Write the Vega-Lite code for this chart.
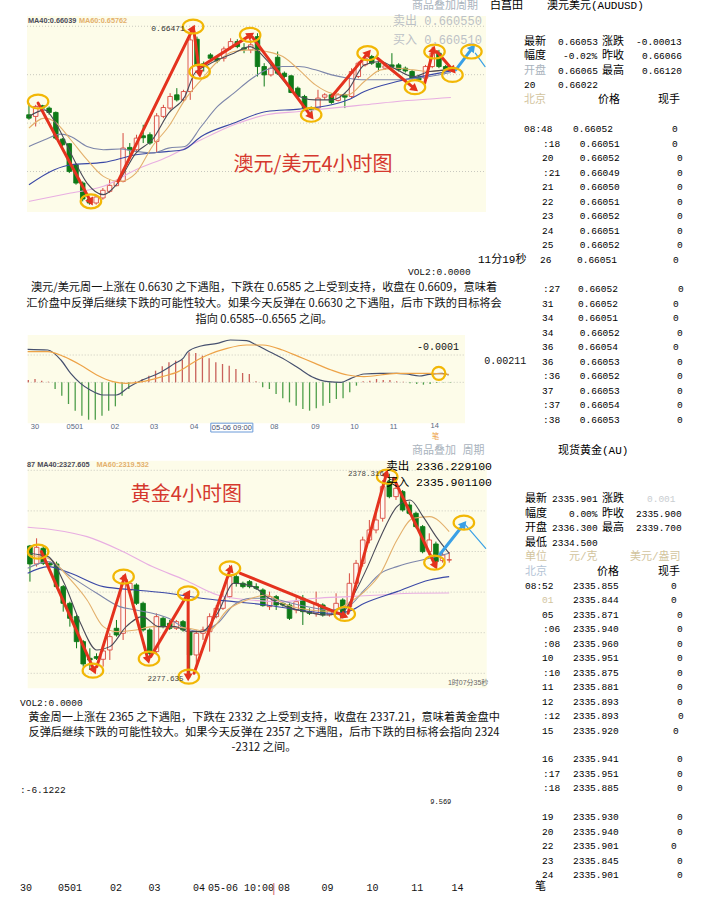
{
"$schema": "https://vega.github.io/schema/vega-lite/v6.json",
"width": 722, "height": 897, "autosize": "none", "padding": 0, "background": "#ffffff",
"config": {"view": {"stroke": null}},
"datasets": {
"audK": [
{"i":1,"o":0.65586,"c":0.65551,"h":0.65706,"l":0.65534},{"i":2,"o":0.65569,"c":0.65672,"h":0.65689,"l":0.65465},{"i":3,"o":0.65679,"c":0.65655,"h":0.65689,"l":0.65637},{"i":4,"o":0.65655,"c":0.6561,"h":0.65672,"l":0.65586},{"i":5,"o":0.6561,"c":0.65345,"h":0.6562,"l":0.65328},{"i":6,"o":0.65335,"c":0.65276,"h":0.65345,"l":0.65259},{"i":7,"o":0.65287,"c":0.65001,"h":0.65294,"l":0.64984},{"i":8,"o":0.6507,"c":0.64881,"h":0.65087,"l":0.64864},{"i":9,"o":0.64881,"c":0.64716,"h":0.64898,"l":0.64692},{"i":10,"o":0.64716,"c":0.64675,"h":0.64727,"l":0.64658},
{"i":11,"o":0.64675,"c":0.64737,"h":0.64761,"l":0.64658},{"i":12,"o":0.64727,"c":0.64806,"h":0.6483,"l":0.64709},{"i":13,"o":0.64795,"c":0.64857,"h":0.64916,"l":0.64778},{"i":14,"o":0.64854,"c":0.64898,"h":0.64916,"l":0.64847},{"i":15,"o":0.64898,"c":0.65242,"h":0.65397,"l":0.64888},{"i":16,"o":0.65249,"c":0.65225,"h":0.65294,"l":0.65173},{"i":17,"o":0.65225,"c":0.65345,"h":0.6538,"l":0.65208},{"i":18,"o":0.65369,"c":0.65349,"h":0.65483,"l":0.65294},{"i":19,"o":0.6538,"c":0.65294,"h":0.65404,"l":0.65276},{"i":20,"o":0.65311,"c":0.65575,"h":0.65603,"l":0.65191},
{"i":21,"o":0.65569,"c":0.65661,"h":0.65689,"l":0.65551},{"i":22,"o":0.65655,"c":0.65775,"h":0.65809,"l":0.65637},{"i":23,"o":0.65792,"c":0.6574,"h":0.65861,"l":0.65723},{"i":24,"o":0.6574,"c":0.65826,"h":0.65844,"l":0.65723},{"i":25,"o":0.65826,"c":0.66359,"h":0.66479,"l":0.6574},{"i":26,"o":0.66366,"c":0.66101,"h":0.66393,"l":0.66084},{"i":27,"o":0.66112,"c":0.66084,"h":0.66136,"l":0.66033},{"i":28,"o":0.66204,"c":0.6617,"h":0.66222,"l":0.66153},{"i":29,"o":0.6617,"c":0.66143,"h":0.66187,"l":0.66119},{"i":30,"o":0.6617,"c":0.66266,"h":0.6629,"l":0.66136},
{"i":31,"o":0.66284,"c":0.66342,"h":0.66376,"l":0.66256},{"i":32,"o":0.66342,"c":0.6629,"h":0.66366,"l":0.66273},{"i":33,"o":0.66277,"c":0.66263,"h":0.66325,"l":0.66222},{"i":34,"o":0.66256,"c":0.66308,"h":0.66359,"l":0.66222},{"i":35,"o":0.66393,"c":0.66084,"h":0.66428,"l":0.65981},{"i":36,"o":0.66084,"c":0.65998,"h":0.66119,"l":0.65878},{"i":37,"o":0.65998,"c":0.66067,"h":0.66101,"l":0.65981},{"i":38,"o":0.6618,"c":0.66015,"h":0.66239,"l":0.65998},{"i":39,"o":0.66015,"c":0.65981,"h":0.66033,"l":0.65964},{"i":40,"o":0.65988,"c":0.65816,"h":0.65998,"l":0.65809},
{"i":41,"o":0.65861,"c":0.65775,"h":0.65878,"l":0.65758},{"i":42,"o":0.65775,"c":0.65655,"h":0.65792,"l":0.65637},{"i":43,"o":0.65655,"c":0.65637,"h":0.65672,"l":0.65603},{"i":44,"o":0.65655,"c":0.65758,"h":0.65844,"l":0.65637},{"i":45,"o":0.65768,"c":0.65792,"h":0.65809,"l":0.6574},{"i":46,"o":0.65792,"c":0.65713,"h":0.65809,"l":0.65699},{"i":47,"o":0.65734,"c":0.65792,"h":0.65809,"l":0.65723},{"i":48,"o":0.65792,"c":0.65768,"h":0.65809,"l":0.65655},{"i":49,"o":0.65775,"c":0.66033,"h":0.66067,"l":0.65758},{"i":50,"o":0.65981,"c":0.66119,"h":0.66136,"l":0.65964},
{"i":51,"o":0.66101,"c":0.6617,"h":0.66204,"l":0.66084},{"i":52,"o":0.66187,"c":0.66119,"h":0.66204,"l":0.66101},{"i":53,"o":0.66119,"c":0.66077,"h":0.66136,"l":0.66033},{"i":54,"o":0.66067,"c":0.66091,"h":0.66101,"l":0.6605},{"i":55,"o":0.66101,"c":0.66084,"h":0.66222,"l":0.6605},{"i":56,"o":0.66101,"c":0.6605,"h":0.66119,"l":0.66033},{"i":57,"o":0.66067,"c":0.66039,"h":0.66084,"l":0.66022},{"i":58,"o":0.66033,"c":0.65964,"h":0.6605,"l":0.65947},{"i":59,"o":0.65974,"c":0.65947,"h":0.65998,"l":0.6593},{"i":60,"o":0.65964,"c":0.66084,"h":0.66101,"l":0.65947},
{"i":61,"o":0.66084,"c":0.66222,"h":0.6629,"l":0.66067},{"i":62,"o":0.66222,"c":0.66084,"h":0.66256,"l":0.66067},{"i":63,"o":0.66084,"c":0.66057,"h":0.66101,"l":0.66043},{"i":64,"o":0.66074,"c":0.6605,"h":0.66091,"l":0.66033}
],
"audMA": [
{"m":"MA60","i":1,"p":0.64692},{"m":"MA60","i":7.21,"p":0.64778},{"m":"MA60","i":12.07,"p":0.64847},{"m":"MA60","i":16.92,"p":0.65019},{"m":"MA60","i":21.78,"p":0.65156},{"m":"MA60","i":26.63,"p":0.65328},{"m":"MA60","i":31.49,"p":0.65483},{"m":"MA60","i":36.34,"p":0.65586},{"m":"MA60","i":41.19,"p":0.6562},{"m":"MA60","i":46.05,"p":0.65655},{"m":"MA60","i":50.9,"p":0.65689},{"m":"MA60","i":55.76,"p":0.65723},{"m":"MA60","i":63.77,"p":0.65764},
{"m":"MA40","i":1,"p":0.64864},{"m":"MA40","i":4.79,"p":0.65019},{"m":"MA40","i":7.21,"p":0.6507},{"m":"MA40","i":12.07,"p":0.65094},{"m":"MA40","i":16.92,"p":0.65173},{"m":"MA40","i":21.78,"p":0.65208},{"m":"MA40","i":23.96,"p":0.65225},{"m":"MA40","i":26.63,"p":0.65362},{"m":"MA40","i":31.49,"p":0.655},{"m":"MA40","i":36.34,"p":0.6562},{"m":"MA40","i":41.19,"p":0.65644},{"m":"MA40","i":46.05,"p":0.65689},{"m":"MA40","i":48.48,"p":0.6574},{"m":"MA40","i":50.9,"p":0.65826},{"m":"MA40","i":55.76,"p":0.65929},{"m":"MA40","i":60.61,"p":0.65998},{"m":"MA40","i":63.77,"p":0.66039},
{"m":"MA20","i":1,"p":0.65259},{"m":"MA20","i":3.33,"p":0.65328},{"m":"MA20","i":5.76,"p":0.65386},{"m":"MA20","i":7.21,"p":0.65362},{"m":"MA20","i":9.64,"p":0.65259},{"m":"MA20","i":12.07,"p":0.65225},{"m":"MA20","i":14.5,"p":0.65232},{"m":"MA20","i":16.92,"p":0.65208},{"m":"MA20","i":19.35,"p":0.65191},{"m":"MA20","i":21.78,"p":0.65242},{"m":"MA20","i":24.2,"p":0.65259},{"m":"MA20","i":26.63,"p":0.65465},{"m":"MA20","i":29.06,"p":0.65672},{"m":"MA20","i":31.49,"p":0.65809},{"m":"MA20","i":33.91,"p":0.65947},{"m":"MA20","i":36.34,"p":0.6605},{"m":"MA20","i":38.77,"p":0.66084},{"m":"MA20","i":41.19,"p":0.66084},{"m":"MA20","i":43.62,"p":0.6605},{"m":"MA20","i":46.05,"p":0.65998},{"m":"MA20","i":48.48,"p":0.65964},{"m":"MA20","i":50.9,"p":0.65947},{"m":"MA20","i":55.76,"p":0.65947},{"m":"MA20","i":60.61,"p":0.65981},{"m":"MA20","i":63.77,"p":0.66022},
{"m":"MA10","i":1,"p":0.65448},{"m":"MA10","i":3.33,"p":0.65551},{"m":"MA10","i":4.79,"p":0.65517},{"m":"MA10","i":7.21,"p":0.65328},{"m":"MA10","i":9.64,"p":0.65122},{"m":"MA10","i":12.07,"p":0.6495},{"m":"MA10","i":14.5,"p":0.64898},{"m":"MA10","i":16.92,"p":0.64984},{"m":"MA10","i":19.35,"p":0.65259},{"m":"MA10","i":21.78,"p":0.65465},{"m":"MA10","i":24.2,"p":0.6574},{"m":"MA10","i":26.63,"p":0.65947},{"m":"MA10","i":29.06,"p":0.66136},{"m":"MA10","i":31.49,"p":0.66239},{"m":"MA10","i":33.91,"p":0.66256},{"m":"MA10","i":36.34,"p":0.66239},{"m":"MA10","i":38.77,"p":0.66187},{"m":"MA10","i":41.19,"p":0.6605},{"m":"MA10","i":43.62,"p":0.65895},{"m":"MA10","i":46.05,"p":0.65809},{"m":"MA10","i":48.48,"p":0.65792},{"m":"MA10","i":50.9,"p":0.65929},{"m":"MA10","i":53.33,"p":0.6605},{"m":"MA10","i":55.76,"p":0.66067},{"m":"MA10","i":58.18,"p":0.6605},{"m":"MA10","i":60.61,"p":0.66033},{"m":"MA10","i":63.77,"p":0.66067},
{"m":"MA5","i":1,"p":0.65569},{"m":"MA5","i":3.33,"p":0.65637},{"m":"MA5","i":5.27,"p":0.65465},{"m":"MA5","i":7.21,"p":0.65191},{"m":"MA5","i":9.64,"p":0.64881},{"m":"MA5","i":12.07,"p":0.64761},{"m":"MA5","i":14.01,"p":0.64864},{"m":"MA5","i":16.92,"p":0.65191},{"m":"MA5","i":19.35,"p":0.65328},{"m":"MA5","i":21.78,"p":0.65603},{"m":"MA5","i":24.2,"p":0.65775},{"m":"MA5","i":25.66,"p":0.66015},{"m":"MA5","i":27.6,"p":0.66101},{"m":"MA5","i":31.49,"p":0.66222},{"m":"MA5","i":33.91,"p":0.6629},{"m":"MA5","i":36.34,"p":0.66153},{"m":"MA5","i":38.77,"p":0.65947},{"m":"MA5","i":41.19,"p":0.65775},{"m":"MA5","i":43.62,"p":0.6574},{"m":"MA5","i":46.05,"p":0.6574},{"m":"MA5","i":48.48,"p":0.65843},{"m":"MA5","i":50.9,"p":0.66101},{"m":"MA5","i":53.33,"p":0.66136},{"m":"MA5","i":55.76,"p":0.6605},{"m":"MA5","i":58.18,"p":0.65981},{"m":"MA5","i":60.61,"p":0.66033},{"m":"MA5","i":63.77,"p":0.6605}
],
"audArr": [
{"k":"r","i1":2.36,"p1":0.65706,"i2":10.22,"p2":0.64685},{"k":"r","i1":14.25,"p1":0.64898,"i2":25.42,"p2":0.66479},{"k":"r","i1":25.56,"p1":0.66445,"i2":26.39,"p2":0.66008},{"k":"r","i1":26.63,"p1":0.66084,"i2":34.01,"p2":0.66411},{"k":"r","i1":34.25,"p1":0.66387,"i2":42.99,"p2":0.65569},{"k":"r","i1":46.05,"p1":0.65775,"i2":51.49,"p2":0.66228},{"k":"r","i1":52.85,"p1":0.6617,"i2":58.43,"p2":0.65854},{"k":"r","i1":59.88,"p1":0.65912,"i2":61.19,"p2":0.66263},{"k":"r","i1":61.68,"p1":0.66239,"i2":64.11,"p2":0.66043},{"k":"b","i1":64.5,"p1":0.6605,"i2":67.02,"p2":0.6628},{"k":"t","i1":67.41,"p1":0.66222,"i2":68.86,"p2":0.66084}
],
"audRing": [
{"i":2.36,"p":0.65723},{"i":10.22,"p":0.64692},{"i":25.42,"p":0.66497},{"i":26.39,"p":0.66032},{"i":33.91,"p":0.66411},{"i":42.99,"p":0.65586},{"i":51.39,"p":0.66222},{"i":58.43,"p":0.65871},{"i":61.34,"p":0.66239},{"i":64.01,"p":0.65998},{"i":66.83,"p":0.66239}
],
"goldK": [
{"i":1,"o":2342.72,"c":2333.86,"h":2343.22,"l":2325.16},{"i":2,"o":2333.86,"c":2342.07,"h":2346.5,"l":2332.55},{"i":3,"o":2341.57,"c":2334.19,"h":2342.72,"l":2333.37},{"i":4,"o":2334.19,"c":2333.37,"h":2335.01,"l":2332.55},{"i":5,"o":2333.86,"c":2322.69,"h":2335.01,"l":2321.87},{"i":6,"o":2322.69,"c":2314.48,"h":2323.51,"l":2310.37},{"i":7,"o":2314.48,"c":2307.09,"h":2315.3,"l":2302.99},{"i":8,"o":2307.91,"c":2295.6,"h":2308.73,"l":2292.32},{"i":9,"o":2295.6,"c":2284.6,"h":2296.42,"l":2283.28},{"i":10,"o":2287.39,"c":2286.57,"h":2292.32,"l":2281.64},
{"i":11,"o":2288.21,"c":2287.39,"h":2289.85,"l":2286.57},{"i":12,"o":2286.9,"c":2291.0,"h":2292.32,"l":2283.28},{"i":13,"o":2291.49,"c":2298.06,"h":2299.7,"l":2286.57},{"i":14,"o":2302.17,"c":2298.88,"h":2306.27,"l":2298.06},{"i":15,"o":2299.7,"c":2324.33,"h":2328.44,"l":2296.42},{"i":16,"o":2321.05,"c":2324.33,"h":2325.16,"l":2319.41},{"i":17,"o":2323.51,"c":2314.48,"h":2324.33,"l":2313.66},{"i":18,"o":2314.48,"c":2301.35,"h":2315.3,"l":2300.52},{"i":19,"o":2301.35,"c":2289.85,"h":2302.17,"l":2288.21},{"i":20,"o":2290.67,"c":2307.91,"h":2309.55,"l":2289.85},
{"i":21,"o":2307.09,"c":2302.99,"h":2307.91,"l":2302.17},{"i":22,"o":2304.63,"c":2302.17,"h":2306.27,"l":2301.35},{"i":23,"o":2302.17,"c":2305.45,"h":2306.27,"l":2301.35},{"i":24,"o":2305.45,"c":2301.35,"h":2306.27,"l":2300.52},{"i":25,"o":2300.52,"c":2289.03,"h":2302.17,"l":2277.64},{"i":26,"o":2289.03,"c":2299.7,"h":2301.35,"l":2283.28},{"i":27,"o":2299.7,"c":2301.35,"h":2302.99,"l":2296.42},{"i":28,"o":2300.52,"c":2307.91,"h":2309.55,"l":2290.67},{"i":29,"o":2307.91,"c":2312.02,"h":2313.66,"l":2307.09},{"i":30,"o":2312.02,"c":2317.77,"h":2319.41,"l":2311.2},
{"i":31,"o":2317.77,"c":2327.62,"h":2333.37,"l":2316.95},{"i":32,"o":2327.62,"c":2324.33,"h":2329.26,"l":2322.69},{"i":33,"o":2324.33,"c":2322.69,"h":2325.16,"l":2321.87},{"i":34,"o":2325.16,"c":2322.69,"h":2325.98,"l":2321.87},{"i":35,"o":2322.69,"c":2321.87,"h":2324.33,"l":2321.05},{"i":36,"o":2321.05,"c":2313.33,"h":2321.87,"l":2312.84},{"i":37,"o":2312.84,"c":2317.77,"h":2320.23,"l":2311.2},{"i":38,"o":2317.77,"c":2313.66,"h":2318.59,"l":2311.2},{"i":39,"o":2314.48,"c":2313.66,"h":2315.3,"l":2312.84},{"i":40,"o":2313.66,"c":2307.09,"h":2314.48,"l":2306.27},
{"i":41,"o":2311.2,"c":2315.3,"h":2318.59,"l":2309.55},{"i":42,"o":2316.95,"c":2310.37,"h":2318.59,"l":2303.81},{"i":43,"o":2310.37,"c":2309.55,"h":2312.02,"l":2308.73},{"i":44,"o":2309.55,"c":2314.48,"h":2320.23,"l":2307.91},{"i":45,"o":2313.66,"c":2308.73,"h":2314.48,"l":2307.91},{"i":46,"o":2308.73,"c":2311.2,"h":2312.02,"l":2307.91},{"i":47,"o":2311.2,"c":2314.48,"h":2319.41,"l":2309.55},{"i":48,"o":2316.12,"c":2307.91,"h":2316.95,"l":2307.09},{"i":49,"o":2312.84,"c":2324.33,"h":2329.26,"l":2311.2},{"i":50,"o":2324.33,"c":2334.19,"h":2335.83,"l":2322.69},
{"i":51,"o":2334.19,"c":2345.68,"h":2347.32,"l":2332.55},{"i":52,"o":2345.68,"c":2350.61,"h":2355.53,"l":2344.04},{"i":53,"o":2350.61,"c":2355.53,"h":2358.82,"l":2348.96},{"i":54,"o":2356.35,"c":2371.95,"h":2375.24,"l":2354.71},{"i":55,"o":2374.42,"c":2367.03,"h":2378.32,"l":2366.21},{"i":56,"o":2367.03,"c":2371.13,"h":2373.59,"l":2365.38},{"i":57,"o":2369.49,"c":2360.46,"h":2370.31,"l":2359.64},{"i":58,"o":2362.92,"c":2358.82,"h":2364.57,"l":2357.99},{"i":59,"o":2358.82,"c":2352.25,"h":2359.64,"l":2351.43},{"i":60,"o":2352.25,"c":2339.93,"h":2353.07,"l":2339.11},
{"i":61,"o":2339.93,"c":2345.68,"h":2348.96,"l":2338.29},{"i":62,"o":2343.71,"c":2335.01,"h":2344.86,"l":2334.19},{"i":63,"o":2335.5,"c":2338.29,"h":2339.93,"l":2334.52},{"i":64,"o":2335.83,"c":2335.9,"h":2339.7,"l":2334.5}
],
"goldMA": [
{"m":"MA60","i":0.66,"p":2351.92},{"m":"MA60","i":4.68,"p":2350.61},{"m":"MA60","i":9.58,"p":2347.32},{"m":"MA60","i":14.48,"p":2340.75},{"m":"MA60","i":19.38,"p":2332.55},{"m":"MA60","i":24.28,"p":2325.98},{"m":"MA60","i":29.19,"p":2318.59},{"m":"MA60","i":34.09,"p":2316.12},{"m":"MA60","i":38.99,"p":2315.3},{"m":"MA60","i":43.89,"p":2316.95},{"m":"MA60","i":48.79,"p":2317.77},{"m":"MA60","i":53.7,"p":2318.59},{"m":"MA60","i":58.6,"p":2319.41},{"m":"MA60","i":63.99,"p":2319.53},
{"m":"MA40","i":0.66,"p":2329.26},{"m":"MA40","i":3.7,"p":2332.55},{"m":"MA40","i":7.13,"p":2329.26},{"m":"MA40","i":12.03,"p":2322.69},{"m":"MA40","i":16.93,"p":2321.05},{"m":"MA40","i":21.83,"p":2319.41},{"m":"MA40","i":26.74,"p":2316.95},{"m":"MA40","i":31.64,"p":2315.3},{"m":"MA40","i":36.54,"p":2313.66},{"m":"MA40","i":41.44,"p":2311.2},{"m":"MA40","i":46.34,"p":2309.55},{"m":"MA40","i":48.79,"p":2310.37},{"m":"MA40","i":51.25,"p":2314.48},{"m":"MA40","i":56.15,"p":2320.23},{"m":"MA40","i":61.05,"p":2325.98},{"m":"MA40","i":63.99,"p":2327.61},
{"m":"MA20","i":0.66,"p":2331.72},{"m":"MA20","i":3.7,"p":2335.01},{"m":"MA20","i":7.13,"p":2327.62},{"m":"MA20","i":11.05,"p":2319.41},{"m":"MA20","i":14.48,"p":2312.84},{"m":"MA20","i":16.93,"p":2311.2},{"m":"MA20","i":19.38,"p":2309.55},{"m":"MA20","i":21.83,"p":2307.09},{"m":"MA20","i":24.28,"p":2302.17},{"m":"MA20","i":26.74,"p":2300.52},{"m":"MA20","i":29.19,"p":2304.63},{"m":"MA20","i":31.64,"p":2313.66},{"m":"MA20","i":34.09,"p":2316.95},{"m":"MA20","i":36.54,"p":2316.95},{"m":"MA20","i":41.44,"p":2313.66},{"m":"MA20","i":46.34,"p":2311.2},{"m":"MA20","i":48.79,"p":2312.84},{"m":"MA20","i":51.25,"p":2321.05},{"m":"MA20","i":53.7,"p":2329.26},{"m":"MA20","i":56.15,"p":2332.55},{"m":"MA20","i":61.05,"p":2336.65},{"m":"MA20","i":63.99,"p":2339.11},
{"m":"MA10","i":0.66,"p":2338.29},{"m":"MA10","i":3.7,"p":2336.65},{"m":"MA10","i":7.13,"p":2325.98},{"m":"MA10","i":9.58,"p":2316.12},{"m":"MA10","i":12.03,"p":2302.99},{"m":"MA10","i":13.99,"p":2300.52},{"m":"MA10","i":16.93,"p":2301.35},{"m":"MA10","i":19.38,"p":2302.99},{"m":"MA10","i":21.83,"p":2302.99},{"m":"MA10","i":24.77,"p":2302.17},{"m":"MA10","i":27.72,"p":2300.52},{"m":"MA10","i":30.66,"p":2311.2},{"m":"MA10","i":33.6,"p":2316.12},{"m":"MA10","i":36.54,"p":2318.59},{"m":"MA10","i":38.99,"p":2314.48},{"m":"MA10","i":41.44,"p":2312.02},{"m":"MA10","i":46.34,"p":2310.37},{"m":"MA10","i":48.79,"p":2314.48},{"m":"MA10","i":51.25,"p":2320.23},{"m":"MA10","i":53.7,"p":2329.26},{"m":"MA10","i":56.15,"p":2345.68},{"m":"MA10","i":58.6,"p":2356.35},{"m":"MA10","i":61.05,"p":2357.17},{"m":"MA10","i":63.99,"p":2349.79},
{"m":"MA5","i":0.66,"p":2339.11},{"m":"MA5","i":3.7,"p":2337.47},{"m":"MA5","i":6.15,"p":2324.33},{"m":"MA5","i":8.6,"p":2304.63},{"m":"MA5","i":11.05,"p":2291.49},{"m":"MA5","i":13.01,"p":2293.14},{"m":"MA5","i":15.46,"p":2302.99},{"m":"MA5","i":17.91,"p":2307.91},{"m":"MA5","i":20.36,"p":2302.99},{"m":"MA5","i":22.81,"p":2302.99},{"m":"MA5","i":24.77,"p":2300.52},{"m":"MA5","i":26.74,"p":2300.52},{"m":"MA5","i":29.19,"p":2309.55},{"m":"MA5","i":31.64,"p":2324.33},{"m":"MA5","i":34.58,"p":2322.69},{"m":"MA5","i":36.54,"p":2317.77},{"m":"MA5","i":39.48,"p":2312.84},{"m":"MA5","i":42.42,"p":2310.37},{"m":"MA5","i":45.36,"p":2308.73},{"m":"MA5","i":47.81,"p":2309.55},{"m":"MA5","i":49.77,"p":2319.41},{"m":"MA5","i":51.74,"p":2332.55},{"m":"MA5","i":53.7,"p":2347.32},{"m":"MA5","i":56.15,"p":2362.1},{"m":"MA5","i":58.11,"p":2365.38},{"m":"MA5","i":60.07,"p":2357.17},{"m":"MA5","i":62.03,"p":2347.32},{"m":"MA5","i":63.99,"p":2339.11}
],
"goldArr": [
{"k":"r","i1":2.72,"p1":2339.93,"i2":10.66,"p2":2281.31},{"k":"r","i1":11.05,"p1":2283.28,"i2":15.22,"p2":2327.62},{"k":"r","i1":15.46,"p1":2325.98,"i2":18.75,"p2":2286.57},{"k":"r","i1":19.14,"p1":2288.21,"i2":24.77,"p2":2319.41},{"k":"r","i1":24.77,"p1":2318.59,"i2":24.77,"p2":2278.03},{"k":"r","i1":25.66,"p1":2280.0,"i2":31.15,"p2":2331.72},{"k":"r","i1":32.62,"p1":2329.26,"i2":48.3,"p2":2308.24},{"k":"r","i1":48.79,"p1":2309.55,"i2":54.58,"p2":2378.52},{"k":"r","i1":55.66,"p1":2376.06,"i2":61.93,"p2":2332.87},{"k":"b","i1":62.52,"p1":2338.29,"i2":66.2,"p2":2353.56},{"k":"t","i1":66.44,"p1":2353.07,"i2":69.48,"p2":2341.57}
],
"goldRing": [
{"i":2.23,"p":2339.93},{"i":10.46,"p":2281.31},{"i":15.07,"p":2327.62},{"i":18.89,"p":2287.22},{"i":24.77,"p":2319.41},{"i":24.87,"p":2278.36},{"i":31.05,"p":2331.72},{"i":48.3,"p":2309.23},{"i":54.68,"p":2376.88},{"i":61.78,"p":2334.52},{"i":66.2,"p":2354.22}
],
"macdH": [
{"i":1,"h":0.00014},{"i":2,"h":0.0002},{"i":3,"h":0.0001},{"i":4,"h":0.00004},{"i":5,"h":-0.0004},{"i":6,"h":-0.0008},{"i":7,"h":-0.0013},{"i":8,"h":-0.0017},{"i":9,"h":-0.002},{"i":10,"h":-0.00224},{"i":11,"h":-0.00224},{"i":12,"h":-0.002},{"i":13,"h":-0.0017},{"i":14,"h":-0.00144},{"i":15,"h":-0.0008},{"i":16,"h":-0.0004},{"i":17,"h":0.00006},{"i":18,"h":0.0002},{"i":19,"h":0.0004},{"i":20,"h":0.0007},{"i":21,"h":0.00096},{"i":22,"h":0.0012},{"i":23,"h":0.0013},{"i":24,"h":0.00136},{"i":25,"h":0.0018},{"i":26,"h":0.00176},{"i":27,"h":0.0016},{"i":28,"h":0.00144},{"i":29,"h":0.0012},{"i":30,"h":0.0011},{"i":31,"h":0.001},{"i":32,"h":0.0008},
{"i":33,"h":0.00056},{"i":34,"h":0.0005},{"i":35,"h":0.00006},{"i":36,"h":-0.0003},{"i":37,"h":-0.0004},{"i":38,"h":-0.0007},{"i":39,"h":-0.00096},{"i":40,"h":-0.0012},{"i":41,"h":-0.0014},{"i":42,"h":-0.0016},{"i":43,"h":-0.0017},{"i":44,"h":-0.00156},{"i":45,"h":-0.0014},{"i":46,"h":-0.00124},{"i":47,"h":-0.001},{"i":48,"h":-0.00096},{"i":49,"h":-0.0006},{"i":50,"h":-0.0002},{"i":51,"h":0.00006},{"i":52,"h":0.0001},{"i":53,"h":0.0002},{"i":54,"h":0.00014},{"i":55,"h":0.00014},{"i":56,"h":0.00006},{"i":57,"h":0.00004},{"i":58,"h":-0.00006},{"i":59,"h":-0.0001},{"i":60,"h":-0.00014},{"i":61,"h":-0.0001},{"i":62,"h":-0.00004},{"i":63,"h":-0.00002},{"i":64,"h":-0.00002}
],
"macdL": [
{"m":"DIF","i":0.9,"v":0.00198},{"m":"DIF","i":3.92,"v":0.00194},{"m":"DIF","i":5.87,"v":0.00134},{"m":"DIF","i":7.33,"v":0.00054},{"m":"DIF","i":8.79,"v":-0.00006},{"m":"DIF","i":10.25,"v":-0.00046},{"m":"DIF","i":12.19,"v":-0.00076},{"m":"DIF","i":14.14,"v":-0.00076},{"m":"DIF","i":16.09,"v":-0.00026},{"m":"DIF","i":18.03,"v":0.00014},{"m":"DIF","i":20.46,"v":0.00054},{"m":"DIF","i":22.9,"v":0.00114},{"m":"DIF","i":24.11,"v":0.00144},{"m":"DIF","i":24.84,"v":0.00184},{"m":"DIF","i":26.79,"v":0.00218},{"m":"DIF","i":29.22,"v":0.00234},{"m":"DIF","i":31.17,"v":0.00254},{"m":"DIF","i":33.6,"v":0.0025},{"m":"DIF","i":35.06,"v":0.00224},{"m":"DIF","i":36.52,"v":0.00194},{"m":"DIF","i":38.96,"v":0.00144},{"m":"DIF","i":41.39,"v":0.00084},{"m":"DIF","i":43.34,"v":0.00034},{"m":"DIF","i":45.77,"v":0.00004},{"m":"DIF","i":47.72,"v":0.0},{"m":"DIF","i":49.18,"v":0.00024},{"m":"DIF","i":51.12,"v":0.0005},{"m":"DIF","i":53.55,"v":0.00054},{"m":"DIF","i":55.99,"v":0.00054},{"m":"DIF","i":57.45,"v":0.0005},{"m":"DIF","i":59.39,"v":0.00038},{"m":"DIF","i":60.85,"v":0.00048},{"m":"DIF","i":62.8,"v":0.00054},{"m":"DIF","i":63.77,"v":0.00044},
{"m":"DEA","i":0.9,"v":0.00184},{"m":"DEA","i":3.92,"v":0.00184},{"m":"DEA","i":6.35,"v":0.00154},{"m":"DEA","i":8.79,"v":0.00104},{"m":"DEA","i":11.22,"v":0.00044},{"m":"DEA","i":13.65,"v":0.00004},{"m":"DEA","i":15.6,"v":-0.00006},{"m":"DEA","i":18.03,"v":0.00004},{"m":"DEA","i":20.95,"v":0.00034},{"m":"DEA","i":23.38,"v":0.00064},{"m":"DEA","i":25.82,"v":0.00124},{"m":"DEA","i":27.76,"v":0.00164},{"m":"DEA","i":30.68,"v":0.00204},{"m":"DEA","i":33.6,"v":0.00224},{"m":"DEA","i":36.04,"v":0.00224},{"m":"DEA","i":38.96,"v":0.00194},{"m":"DEA","i":41.39,"v":0.00154},{"m":"DEA","i":43.82,"v":0.00114},{"m":"DEA","i":46.26,"v":0.00074},{"m":"DEA","i":48.69,"v":0.00044},{"m":"DEA","i":51.12,"v":0.00034},{"m":"DEA","i":55.99,"v":0.00054},{"m":"DEA","i":58.42,"v":0.00054},{"m":"DEA","i":60.85,"v":0.00054},{"m":"DEA","i":63.77,"v":0.00048}
],
"macdLab": [
{"i":1.98,"v":-0.00268,"t":"30"},{"i":7.96,"v":-0.00268,"t":"0501"},{"i":13.94,"v":-0.00268,"t":"02"},{"i":19.78,"v":-0.00268,"t":"03"},{"i":25.77,"v":-0.00268,"t":"04"},{"i":37.74,"v":-0.00268,"t":"08"},{"i":43.87,"v":-0.00268,"t":"09"},{"i":49.71,"v":-0.00268,"t":"10"},{"i":55.55,"v":-0.00268,"t":"11"},{"i":61.68,"v":-0.00262,"t":"14"}
],
"goldLab": [
{"i":1.15,"l":0,"t":"30"},{"i":7.62,"l":0,"t":"0501"},{"i":14.38,"l":0,"t":"02"},{"i":20.04,"l":0,"t":"03"},{"i":26.6,"l":0,"t":"04"},{"i":32.76,"l":0,"t":"05-06 10:00"},{"i":39.09,"l":0,"t":"08"},{"i":45.49,"l":0,"t":"09"},{"i":52.1,"l":0,"t":"10"},{"i":58.7,"l":0,"t":"11"},{"i":64.6,"l":0,"t":"14"}
],
"audTab": [
{"r":-7.45,"c":-18.67,"t":"商品叠加周期","k":"g"},{"r":-7.45,"c":-5.67,"t":"白菖田","k":"k"},{"r":-7.45,"c":3.83,"t":"澳元美元(AUDUSD)","k":"k"},
{"r":-5,"c":0,"t":"最新","k":"k"},{"r":-5,"c":5.67,"t":"0.66053","k":"k"},{"r":-5,"c":13,"t":"涨跌","k":"k"},{"r":-5,"c":18.67,"t":"-0.00013","k":"k"},
{"r":-4,"c":0,"t":"幅度","k":"k"},{"r":-4,"c":6.5,"t":"-0.02%","k":"k"},{"r":-4,"c":13,"t":"昨收","k":"k"},{"r":-4,"c":19.67,"t":"0.66066","k":"k"},
{"r":-3,"c":0,"t":"开盘","k":"g"},{"r":-3,"c":5.67,"t":"0.66065","k":"k"},{"r":-3,"c":13,"t":"最高","k":"k"},{"r":-3,"c":19.67,"t":"0.66120","k":"k"},
{"r":-2,"c":0,"t":"20","k":"k"},{"r":-2,"c":5.67,"t":"0.66022","k":"k"},
{"r":-1,"c":0,"t":"北京","k":"t"},{"r":-1,"c":12.33,"t":"价格","k":"k"},{"r":-1,"c":22.33,"t":"现手","k":"k"},
{"r":1,"c":0,"t":"08:48","k":"k"},{"r":1,"c":8.17,"t":"0.66052","k":"k"},{"r":1,"c":24.67,"t":"0","k":"k"},
{"r":2,"c":3.17,"t":":18","k":"k"},{"r":2,"c":9.3,"t":"0.66051","k":"k"},{"r":2,"c":24.67,"t":"0","k":"k"},
{"r":3,"c":3,"t":"20","k":"k"},{"r":3,"c":9.3,"t":"0.66052","k":"k"},{"r":3,"c":25.5,"t":"0","k":"k"},
{"r":4,"c":3.17,"t":":21","k":"k"},{"r":4,"c":9.3,"t":"0.66049","k":"k"},{"r":4,"c":25.5,"t":"0","k":"k"},
{"r":5,"c":3,"t":"21","k":"k"},{"r":5,"c":9.3,"t":"0.66050","k":"k"},{"r":5,"c":25.5,"t":"0","k":"k"},
{"r":6,"c":3,"t":"22","k":"k"},{"r":6,"c":9.3,"t":"0.66051","k":"k"},{"r":6,"c":25.5,"t":"0","k":"k"},
{"r":7,"c":3,"t":"23","k":"k"},{"r":7,"c":9.3,"t":"0.66052","k":"k"},{"r":7,"c":25.5,"t":"0","k":"k"},
{"r":8,"c":3,"t":"24","k":"k"},{"r":8,"c":9.3,"t":"0.66051","k":"k"},{"r":8,"c":25.5,"t":"0","k":"k"},
{"r":9,"c":3,"t":"25","k":"k"},{"r":9,"c":9.3,"t":"0.66052","k":"k"},{"r":9,"c":25.5,"t":"0","k":"k"},
{"r":10,"c":-7.67,"t":"11分19秒","k":"k"},{"r":10,"c":2.67,"t":"26","k":"k"},{"r":10,"c":8.83,"t":"0.66051","k":"k"},{"r":10,"c":24.83,"t":"0","k":"k"},
{"r":12,"c":3.17,"t":":27","k":"k"},{"r":12,"c":9,"t":"0.66052","k":"k"},{"r":12,"c":25.67,"t":"0","k":"k"},
{"r":13,"c":3,"t":"31","k":"k"},{"r":13,"c":9,"t":"0.66052","k":"k"},{"r":13,"c":24.83,"t":"0","k":"k"},
{"r":14,"c":3,"t":"34","k":"k"},{"r":14,"c":9,"t":"0.66051","k":"k"},{"r":14,"c":24.83,"t":"0","k":"k"},
{"r":15,"c":3,"t":"34","k":"k"},{"r":15,"c":9.3,"t":"0.66052","k":"k"},{"r":15,"c":25.5,"t":"0","k":"k"},
{"r":16,"c":3,"t":"36","k":"k"},{"r":16,"c":9,"t":"0.66054","k":"k"},{"r":16,"c":24.83,"t":"0","k":"k"},
{"r":17,"c":3,"t":"36","k":"k"},{"r":17,"c":9.3,"t":"0.66053","k":"k"},{"r":17,"c":25.5,"t":"0","k":"k"},
{"r":18,"c":3.17,"t":":36","k":"k"},{"r":18,"c":9.3,"t":"0.66052","k":"k"},{"r":18,"c":25.5,"t":"0","k":"k"},
{"r":19,"c":3,"t":"37","k":"k"},{"r":19,"c":9.3,"t":"0.66053","k":"k"},{"r":19,"c":25.5,"t":"0","k":"k"},
{"r":20,"c":3.17,"t":":37","k":"k"},{"r":20,"c":9.3,"t":"0.66054","k":"k"},{"r":20,"c":25.5,"t":"0","k":"k"},
{"r":21,"c":3.17,"t":":38","k":"k"},{"r":21,"c":9.3,"t":"0.66053","k":"k"},{"r":21,"c":25.5,"t":"0","k":"k"}
],
"goldTab": [
{"r":-8.34,"c":-18.67,"t":"商品叠加 周期","k":"g"},{"r":-8.34,"c":5.67,"t":"现货黄金(AU)","k":"k"},
{"r":-5,"c":0.17,"t":"最新","k":"k"},{"r":-5,"c":4.67,"t":"2335.901","k":"k"},{"r":-5,"c":13,"t":"涨跌","k":"k"},{"r":-5,"c":20.5,"t":"0.001","k":"l"},
{"r":-4,"c":0.17,"t":"幅度","k":"k"},{"r":-4,"c":7.5,"t":"0.00%","k":"k"},{"r":-4,"c":13,"t":"昨收","k":"k"},{"r":-4,"c":18.67,"t":"2335.900","k":"k"},
{"r":-3,"c":0.17,"t":"开盘","k":"k"},{"r":-3,"c":4.67,"t":"2336.300","k":"k"},{"r":-3,"c":13,"t":"最高","k":"k"},{"r":-3,"c":18.67,"t":"2339.700","k":"k"},
{"r":-2,"c":0.17,"t":"最低","k":"k"},{"r":-2,"c":4.67,"t":"2334.500","k":"k"},
{"r":-1,"c":0.17,"t":"单位","k":"t"},{"r":-1,"c":7.5,"t":"元/克","k":"t"},{"r":-1,"c":17.67,"t":"美元/盎司","k":"t"},
{"r":0,"c":0.17,"t":"北京","k":"b"},{"r":0,"c":12.17,"t":"价格","k":"k"},{"r":0,"c":22.33,"t":"现手","k":"k"},
{"r":1,"c":0.17,"t":"08:52","k":"k"},{"r":1,"c":8.17,"t":"2335.855","k":"k"},{"r":1,"c":24.5,"t":"0","k":"k"},
{"r":2,"c":3,"t":"01","k":"t"},{"r":2,"c":8.17,"t":"2335.844","k":"k"},{"r":2,"c":24.5,"t":"0","k":"k"},
{"r":3,"c":3,"t":"05","k":"k"},{"r":3,"c":8.17,"t":"2335.871","k":"k"},{"r":3,"c":25.5,"t":"0","k":"k"},
{"r":4,"c":3.17,"t":":06","k":"k"},{"r":4,"c":8.17,"t":"2335.940","k":"k"},{"r":4,"c":25.5,"t":"0","k":"k"},
{"r":5,"c":3.17,"t":":08","k":"k"},{"r":5,"c":8.17,"t":"2335.960","k":"k"},{"r":5,"c":25.5,"t":"0","k":"k"},
{"r":6,"c":3,"t":"10","k":"k"},{"r":6,"c":8.17,"t":"2335.951","k":"k"},{"r":6,"c":25.5,"t":"0","k":"k"},
{"r":7,"c":3.17,"t":":10","k":"k"},{"r":7,"c":8.17,"t":"2335.875","k":"k"},{"r":7,"c":25.5,"t":"0","k":"k"},
{"r":8,"c":3,"t":"11","k":"k"},{"r":8,"c":8.17,"t":"2335.881","k":"k"},{"r":8,"c":25.5,"t":"0","k":"k"},
{"r":9,"c":3,"t":"12","k":"k"},{"r":9,"c":8.17,"t":"2335.893","k":"k"},{"r":9,"c":25.5,"t":"0","k":"k"},
{"r":10,"c":3.17,"t":":12","k":"k"},{"r":10,"c":8.17,"t":"2335.893","k":"k"},{"r":10,"c":25.67,"t":"0","k":"k"},
{"r":11,"c":3,"t":"15","k":"k"},{"r":11,"c":8.17,"t":"2335.920","k":"k"},{"r":11,"c":24.83,"t":"0","k":"k"},
{"r":13,"c":3,"t":"16","k":"k"},{"r":13,"c":8.17,"t":"2335.941","k":"k"},{"r":13,"c":25.5,"t":"0","k":"k"},
{"r":14,"c":3.17,"t":":17","k":"k"},{"r":14,"c":8.17,"t":"2335.951","k":"k"},{"r":14,"c":25.5,"t":"0","k":"k"},
{"r":15,"c":3.17,"t":":18","k":"k"},{"r":15,"c":8.17,"t":"2335.885","k":"k"},{"r":15,"c":25.5,"t":"0","k":"k"},
{"r":17,"c":3,"t":"19","k":"k"},{"r":17,"c":8.17,"t":"2335.930","k":"k"},{"r":17,"c":25.5,"t":"0","k":"k"},
{"r":18,"c":3,"t":"20","k":"k"},{"r":18,"c":8.17,"t":"2335.940","k":"k"},{"r":18,"c":25.5,"t":"0","k":"k"},
{"r":19,"c":3,"t":"22","k":"k"},{"r":19,"c":8.17,"t":"2335.901","k":"k"},{"r":19,"c":24.5,"t":"0","k":"k"},
{"r":20,"c":3,"t":"23","k":"k"},{"r":20,"c":8.17,"t":"2335.845","k":"k"},{"r":20,"c":25.5,"t":"0","k":"k"},
{"r":21,"c":3,"t":"24","k":"k"},{"r":21,"c":8.17,"t":"2335.901","k":"k"},{"r":21,"c":25.5,"t":"0","k":"k"},
{"r":21.85,"c":1.83,"t":"笔","k":"k"}
]
},
"resolve": {"scale": {"x": "independent", "y": "independent", "color": "independent", "size": "independent"}},
"layer": [
{"layer": [
{"data": {"values": [{"a": 0.709, "b": 69.0, "lo": 0.64582, "hi": 0.66606}]}, "mark": {"type": "rect", "fill": "#fdfce9"}, "encoding": {"x": {"field": "a", "type": "quantitative", "scale": {"domain": [0.709, 69.0], "range": [22, 491], "nice": false, "zero": false}, "axis": null}, "x2": {"field": "b"}, "y": {"field": "lo", "type": "quantitative", "scale": {"domain": [0.64582, 0.66606], "range": [212, 16], "nice": false, "zero": false}, "axis": null}, "y2": {"field": "hi"}}},
{"data": {"values": [{"p": 0.665, "a": 0.709, "b": 69.0}, {"p": 0.66, "a": 0.709, "b": 69.0}, {"p": 0.655, "a": 0.709, "b": 69.0}, {"p": 0.65, "a": 0.709, "b": 69.0}]}, "mark": {"type": "rule", "color": "#c9c9bf", "strokeDash": [1, 2]}, "encoding": {"x": {"field": "a", "type": "quantitative", "scale": {"domain": [0.709, 69.0], "range": [22, 491], "nice": false, "zero": false}, "axis": null}, "x2": {"field": "b"}, "y": {"field": "p", "type": "quantitative", "scale": {"domain": [0.64582, 0.66606], "range": [212, 16], "nice": false, "zero": false}, "axis": null}}},
{"data": {"name": "audK"}, "mark": {"type": "rule", "strokeWidth": 1}, "encoding": {"x": {"field": "i", "type": "quantitative", "scale": {"domain": [0.709, 69.0], "range": [22, 491], "nice": false, "zero": false}, "axis": null}, "y": {"field": "l", "type": "quantitative", "scale": {"domain": [0.64582, 0.66606], "range": [212, 16], "nice": false, "zero": false}, "axis": null}, "y2": {"field": "h"}, "color": {"condition": {"test": "datum.c >= datum.o", "value": "#d84a3e"}, "value": "#0e7a18"}}},
{"data": {"name": "audK"}, "mark": {"type": "bar", "size": 4.5, "strokeWidth": 0.9}, "encoding": {"x": {"field": "i", "type": "quantitative", "scale": {"domain": [0.709, 69.0], "range": [22, 491], "nice": false, "zero": false}, "axis": null}, "y": {"field": "o", "type": "quantitative", "scale": {"domain": [0.64582, 0.66606], "range": [212, 16], "nice": false, "zero": false}, "axis": null}, "y2": {"field": "c"}, "fill": {"condition": {"test": "datum.c >= datum.o", "value": "#fff8f2"}, "value": "#0e7a18"}, "stroke": {"condition": {"test": "datum.c >= datum.o", "value": "#d84a3e"}, "value": "#0e7a18"}}},
{"data": {"name": "audMA"}, "mark": {"type": "line", "strokeWidth": 1.1, "interpolate": "monotone"}, "encoding": {"x": {"field": "i", "type": "quantitative", "scale": {"domain": [0.709, 69.0], "range": [22, 491], "nice": false, "zero": false}, "axis": null}, "y": {"field": "p", "type": "quantitative", "scale": {"domain": [0.64582, 0.66606], "range": [212, 16], "nice": false, "zero": false}, "axis": null}, "color": {"field": "m", "type": "nominal", "scale": {"domain": ["MA5", "MA10", "MA20", "MA40", "MA60"], "range": ["#4a4a58", "#e3b06c", "#7d86aa", "#3a48a6", "#e8aee2"]}, "legend": null}}},
{"data": {"name": "audArr"}, "mark": {"type": "rule", "strokeCap": "round"}, "encoding": {"x": {"field": "i1", "type": "quantitative", "scale": {"domain": [0.709, 69.0], "range": [22, 491], "nice": false, "zero": false}, "axis": null}, "y": {"field": "p1", "type": "quantitative", "scale": {"domain": [0.64582, 0.66606], "range": [212, 16], "nice": false, "zero": false}, "axis": null}, "x2": {"field": "i2"}, "y2": {"field": "p2"}, "color": {"condition": {"test": "datum.k == 'r'", "value": "#e4321e"}, "value": "#3aa0e6"}, "strokeWidth": {"condition": {"test": "datum.k == 't'", "value": 1.2}, "value": 3}}},
{"data": {"name": "audArr"}, "transform": [{"filter": "datum.k != 't'"}, {"calculate": "atan2((datum.i2 - datum.i1) * 6.867, (datum.p2 - datum.p1) * 9684) * 180 / PI", "as": "ang"}], "mark": {"type": "point", "shape": "triangle-up", "filled": true, "size": 80, "opacity": 1}, "encoding": {"x": {"field": "i2", "type": "quantitative", "scale": {"domain": [0.709, 69.0], "range": [22, 491], "nice": false, "zero": false}, "axis": null}, "y": {"field": "p2", "type": "quantitative", "scale": {"domain": [0.64582, 0.66606], "range": [212, 16], "nice": false, "zero": false}, "axis": null}, "angle": {"field": "ang", "type": "quantitative", "scale": null}, "color": {"condition": {"test": "datum.k == 'r'", "value": "#e4321e"}, "value": "#3aa0e6"}}},
{"data": {"name": "audRing"}, "mark": {"type": "point", "shape": "M-1,0A1,0.68,0,1,0,1,0A1,0.68,0,1,0,-1,0Z", "size": 420, "filled": false, "color": "#f2b705", "strokeWidth": 2.2, "opacity": 1}, "encoding": {"x": {"field": "i", "type": "quantitative", "scale": {"domain": [0.709, 69.0], "range": [22, 491], "nice": false, "zero": false}, "axis": null}, "y": {"field": "p", "type": "quantitative", "scale": {"domain": [0.64582, 0.66606], "range": [212, 16], "nice": false, "zero": false}, "axis": null}}},
{"data": {"values": [{"i": 0.854, "p": 0.66555, "t": "MA40:0.66039", "k": "a"}, {"i": 8.43, "p": 0.66555, "t": "MA60:0.65762", "k": "b"}]}, "mark": {"type": "text", "align": "left", "baseline": "middle", "font": "Liberation Sans", "fontSize": 7.3, "fontWeight": "bold"}, "encoding": {"x": {"field": "i", "type": "quantitative", "scale": {"domain": [0.709, 69.0], "range": [22, 491], "nice": false, "zero": false}, "axis": null}, "y": {"field": "p", "type": "quantitative", "scale": {"domain": [0.64582, 0.66606], "range": [212, 16], "nice": false, "zero": false}, "axis": null}, "text": {"field": "t", "type": "nominal"}, "color": {"field": "k", "type": "nominal", "scale": {"domain": ["a", "b"], "range": ["#3a4490", "#eaaee4"]}, "legend": null}}},
{"data": {"values": [{"i": 19.2, "p": 0.66472, "t": "0.66471"}]}, "mark": {"type": "text", "align": "left", "baseline": "middle", "font": "Liberation Mono", "fontSize": 8, "color": "#333333"}, "encoding": {"x": {"field": "i", "type": "quantitative", "scale": {"domain": [0.709, 69.0], "range": [22, 491], "nice": false, "zero": false}, "axis": null}, "y": {"field": "p", "type": "quantitative", "scale": {"domain": [0.64582, 0.66606], "range": [212, 16], "nice": false, "zero": false}, "axis": null}, "text": {"field": "t", "type": "nominal"}}},
{"data": {"values": [{"i": 31.44, "p": 0.6507, "t": "澳元/美元4小时图"}]}, "mark": {"type": "text", "align": "left", "baseline": "middle", "font": "Noto Sans CJK SC", "fontSize": 20, "color": "#d5382e"}, "encoding": {"x": {"field": "i", "type": "quantitative", "scale": {"domain": [0.709, 69.0], "range": [22, 491], "nice": false, "zero": false}, "axis": null}, "y": {"field": "p", "type": "quantitative", "scale": {"domain": [0.64582, 0.66606], "range": [212, 16], "nice": false, "zero": false}, "axis": null}, "text": {"field": "t", "type": "nominal"}}},
{"data": {"values": [{"i": 55.17, "p": 0.66555, "t": "卖出 0.660550"}, {"i": 55.17, "p": 0.66359, "t": "买入 0.660510"}]}, "mark": {"type": "text", "align": "left", "baseline": "middle", "font": "Liberation Mono, Noto Sans CJK SC", "fontSize": 12, "color": "#bcc1c6"}, "encoding": {"x": {"field": "i", "type": "quantitative", "scale": {"domain": [0.709, 69.0], "range": [22, 491], "nice": false, "zero": false}, "axis": null}, "y": {"field": "p", "type": "quantitative", "scale": {"domain": [0.64582, 0.66606], "range": [212, 16], "nice": false, "zero": false}, "axis": null}, "text": {"field": "t", "type": "nominal"}}}
]},
{"layer": [
{"data": {"values": [{"a": 0.908, "b": 66.21, "lo": -0.002458, "hi": 0.00284}]}, "mark": {"type": "rect", "fill": "#fdfce9"}, "encoding": {"x": {"field": "a", "type": "quantitative", "scale": {"domain": [0.908, 66.21], "range": [22.7, 470], "nice": false, "zero": false}, "axis": null}, "x2": {"field": "b"}, "y": {"field": "lo", "type": "quantitative", "scale": {"domain": [-0.002458, 0.00284], "range": [423.3, 335], "nice": false, "zero": false}, "axis": null}, "y2": {"field": "hi"}}},
{"data": {"values": [{"v": 0.00164, "a": 0.908, "b": 66.21}, {"v": 0, "a": 0.908, "b": 66.21}]}, "mark": {"type": "rule", "color": "#c9c9bf", "strokeDash": [1, 2]}, "encoding": {"x": {"field": "a", "type": "quantitative", "scale": {"domain": [0.908, 66.21], "range": [22.7, 470], "nice": false, "zero": false}, "axis": null}, "x2": {"field": "b"}, "y": {"field": "v", "type": "quantitative", "scale": {"domain": [-0.002458, 0.00284], "range": [423.3, 335], "nice": false, "zero": false}, "axis": null}}},
{"data": {"name": "macdH"}, "mark": {"type": "bar", "size": 1.3}, "encoding": {"x": {"field": "i", "type": "quantitative", "scale": {"domain": [0.908, 66.21], "range": [22.7, 470], "nice": false, "zero": false}, "axis": null}, "y": {"field": "h", "type": "quantitative", "scale": {"domain": [-0.002458, 0.00284], "range": [423.3, 335], "nice": false, "zero": false}, "axis": null}, "color": {"condition": {"test": "datum.h >= 0", "value": "#c8615a"}, "value": "#4e9e4a"}}},
{"data": {"name": "macdL"}, "mark": {"type": "line", "strokeWidth": 1.2, "interpolate": "monotone"}, "encoding": {"x": {"field": "i", "type": "quantitative", "scale": {"domain": [0.908, 66.21], "range": [22.7, 470], "nice": false, "zero": false}, "axis": null}, "y": {"field": "v", "type": "quantitative", "scale": {"domain": [-0.002458, 0.00284], "range": [423.3, 335], "nice": false, "zero": false}, "axis": null}, "color": {"field": "m", "type": "nominal", "scale": {"domain": ["DIF", "DEA"], "range": ["#46506e", "#eda348"]}, "legend": null}}},
{"data": {"values": [{"i": 62.3, "v": 0.00054}]}, "mark": {"type": "point", "shape": "circle", "size": 170, "filled": false, "color": "#f2b705", "strokeWidth": 2.2, "opacity": 1}, "encoding": {"x": {"field": "i", "type": "quantitative", "scale": {"domain": [0.908, 66.21], "range": [22.7, 470], "nice": false, "zero": false}, "axis": null}, "y": {"field": "v", "type": "quantitative", "scale": {"domain": [-0.002458, 0.00284], "range": [423.3, 335], "nice": false, "zero": false}, "axis": null}}},
{"data": {"values": [{"i": 59.05, "v": 0.00212, "t": "-0.0001"}, {"i": 69.1, "v": 0.00128, "t": "0.00211"}]}, "mark": {"type": "text", "align": "left", "baseline": "middle", "font": "Liberation Mono", "fontSize": 10, "color": "#111111"}, "encoding": {"x": {"field": "i", "type": "quantitative", "scale": {"domain": [0.908, 66.21], "range": [22.7, 470], "nice": false, "zero": false}, "axis": null}, "y": {"field": "v", "type": "quantitative", "scale": {"domain": [-0.002458, 0.00284], "range": [423.3, 335], "nice": false, "zero": false}, "axis": null}, "text": {"field": "t", "type": "nominal"}}},
{"data": {"name": "macdLab"}, "mark": {"type": "text", "align": "center", "baseline": "middle", "font": "Liberation Sans", "fontSize": 7.5, "color": "#5a6a7e"}, "encoding": {"x": {"field": "i", "type": "quantitative", "scale": {"domain": [0.908, 66.21], "range": [22.7, 470], "nice": false, "zero": false}, "axis": null}, "y": {"field": "v", "type": "quantitative", "scale": {"domain": [-0.002458, 0.00284], "range": [423.3, 335], "nice": false, "zero": false}, "axis": null}, "text": {"field": "t", "type": "nominal"}}},
{"data": {"values": [{"a": 28.25, "b": 34.53, "lo": -0.00298, "hi": -0.00245}]}, "mark": {"type": "rect", "fill": "#ffffff", "stroke": "#6a9ad8", "strokeWidth": 1}, "encoding": {"x": {"field": "a", "type": "quantitative", "scale": {"domain": [0.908, 66.21], "range": [22.7, 470], "nice": false, "zero": false}, "axis": null}, "x2": {"field": "b"}, "y": {"field": "lo", "type": "quantitative", "scale": {"domain": [-0.002458, 0.00284], "range": [423.3, 335], "nice": false, "zero": false}, "axis": null}, "y2": {"field": "hi"}}},
{"data": {"values": [{"i": 31.39, "v": -0.00271, "t": "05-06 09:00", "k": "a"}, {"i": 61.8, "v": -0.00328, "t": "笔", "k": "b"}]}, "mark": {"type": "text", "align": "center", "baseline": "middle", "font": "Liberation Sans, Noto Sans CJK SC", "fontSize": 7.5}, "encoding": {"x": {"field": "i", "type": "quantitative", "scale": {"domain": [0.908, 66.21], "range": [22.7, 470], "nice": false, "zero": false}, "axis": null}, "y": {"field": "v", "type": "quantitative", "scale": {"domain": [-0.002458, 0.00284], "range": [423.3, 335], "nice": false, "zero": false}, "axis": null}, "text": {"field": "t", "type": "nominal"}, "color": {"field": "k", "type": "nominal", "scale": {"domain": ["a", "b"], "range": ["#2f6fc0", "#111111"]}, "legend": null}}}
]},
{"data": {"name": "audTab"}, "mark": {"type": "text", "align": "left", "baseline": "middle", "font": "Liberation Mono, Noto Sans CJK SC"}, "encoding": {"x": {"field": "c", "type": "quantitative", "scale": {"domain": [0, 33], "range": [524, 722], "nice": false, "zero": false}, "axis": null}, "y": {"field": "r", "type": "quantitative", "scale": {"domain": [1, 21], "range": [129, 420], "nice": false, "zero": false}, "axis": null}, "text": {"field": "t", "type": "nominal"}, "size": {"condition": {"test": "test(/[一-龥]/, datum.t)", "value": 11}, "value": 9.5}, "color": {"field": "k", "type": "nominal", "scale": {"domain": ["k", "g", "l", "t", "b"], "range": ["#000000", "#a9b3bd", "#c9cdd1", "#d2c49e", "#b4c4d6"]}, "legend": null}}},
{"data": {"values": [{"ln": 1, "a": 0.5, "t": "澳元/美元周一上涨在 0.6630 之下遇阻，下跌在 0.6585 之上受到支持，收盘在 0.6609，意味着"}, {"ln": 2, "a": 0.5, "t": "汇价盘中反弹后继续下跌的可能性较大。如果今天反弹在 0.6630 之下遇阻，后市下跌的目标将会"}, {"ln": 3, "a": 0.5, "t": "指向 0.6585--0.6565 之间。"}]}, "mark": {"type": "text", "align": "center", "baseline": "middle", "font": "Noto Sans CJK SC", "fontSize": 11.2, "color": "#111111"}, "encoding": {"x": {"field": "a", "type": "quantitative", "scale": {"domain": [0, 1], "range": [20, 508], "nice": false, "zero": false}, "axis": null}, "y": {"field": "ln", "type": "quantitative", "scale": {"domain": [0, 3], "range": [272, 320], "nice": false, "zero": false}, "axis": null}, "text": {"field": "t", "type": "nominal"}}},
{"data": {"values": [{"ln": 0, "a": 0.795, "t": "VOL2:0.0000"}]}, "mark": {"type": "text", "align": "left", "baseline": "middle", "font": "Liberation Mono", "fontSize": 9.5, "color": "#111111"}, "encoding": {"x": {"field": "a", "type": "quantitative", "scale": {"domain": [0, 1], "range": [20, 508], "nice": false, "zero": false}, "axis": null}, "y": {"field": "ln", "type": "quantitative", "scale": {"domain": [0, 3], "range": [272, 320], "nice": false, "zero": false}, "axis": null}, "text": {"field": "t", "type": "nominal"}}},
{"layer": [
{"data": {"values": [{"a": 0.662, "b": 69.63, "lo": 2272.61, "hi": 2384.73}]}, "mark": {"type": "rect", "fill": "#fdfce9"}, "encoding": {"x": {"field": "a", "type": "quantitative", "scale": {"domain": [0.662, 69.63], "range": [22.7, 491.7], "nice": false, "zero": false}, "axis": null}, "x2": {"field": "b"}, "y": {"field": "lo", "type": "quantitative", "scale": {"domain": [2272.61, 2384.73], "range": [688.3, 460.7], "nice": false, "zero": false}, "axis": null}, "y2": {"field": "hi"}}},
{"data": {"values": [{"p": 2380, "a": 0.662, "b": 69.63}, {"p": 2360, "a": 0.662, "b": 69.63}, {"p": 2340, "a": 0.662, "b": 69.63}, {"p": 2320, "a": 0.662, "b": 69.63}, {"p": 2300, "a": 0.662, "b": 69.63}, {"p": 2280, "a": 0.662, "b": 69.63}]}, "mark": {"type": "rule", "color": "#c9c9bf", "strokeDash": [1, 2]}, "encoding": {"x": {"field": "a", "type": "quantitative", "scale": {"domain": [0.662, 69.63], "range": [22.7, 491.7], "nice": false, "zero": false}, "axis": null}, "x2": {"field": "b"}, "y": {"field": "p", "type": "quantitative", "scale": {"domain": [2272.61, 2384.73], "range": [688.3, 460.7], "nice": false, "zero": false}, "axis": null}}},
{"data": {"name": "goldK"}, "mark": {"type": "rule", "strokeWidth": 1}, "encoding": {"x": {"field": "i", "type": "quantitative", "scale": {"domain": [0.662, 69.63], "range": [22.7, 491.7], "nice": false, "zero": false}, "axis": null}, "y": {"field": "l", "type": "quantitative", "scale": {"domain": [2272.61, 2384.73], "range": [688.3, 460.7], "nice": false, "zero": false}, "axis": null}, "y2": {"field": "h"}, "color": {"condition": {"test": "datum.c >= datum.o", "value": "#d84a3e"}, "value": "#0e7a18"}}},
{"data": {"name": "goldK"}, "mark": {"type": "bar", "size": 4.6, "strokeWidth": 0.9}, "encoding": {"x": {"field": "i", "type": "quantitative", "scale": {"domain": [0.662, 69.63], "range": [22.7, 491.7], "nice": false, "zero": false}, "axis": null}, "y": {"field": "o", "type": "quantitative", "scale": {"domain": [2272.61, 2384.73], "range": [688.3, 460.7], "nice": false, "zero": false}, "axis": null}, "y2": {"field": "c"}, "fill": {"condition": {"test": "datum.c >= datum.o", "value": "#fff8f2"}, "value": "#0e7a18"}, "stroke": {"condition": {"test": "datum.c >= datum.o", "value": "#d84a3e"}, "value": "#0e7a18"}}},
{"data": {"name": "goldMA"}, "mark": {"type": "line", "strokeWidth": 1.1, "interpolate": "monotone"}, "encoding": {"x": {"field": "i", "type": "quantitative", "scale": {"domain": [0.662, 69.63], "range": [22.7, 491.7], "nice": false, "zero": false}, "axis": null}, "y": {"field": "p", "type": "quantitative", "scale": {"domain": [2272.61, 2384.73], "range": [688.3, 460.7], "nice": false, "zero": false}, "axis": null}, "color": {"field": "m", "type": "nominal", "scale": {"domain": ["MA5", "MA10", "MA20", "MA40", "MA60"], "range": ["#4a4a58", "#e3b06c", "#7d86aa", "#3a48a6", "#e8aee2"]}, "legend": null}}},
{"data": {"name": "goldArr"}, "mark": {"type": "rule", "strokeCap": "round"}, "encoding": {"x": {"field": "i1", "type": "quantitative", "scale": {"domain": [0.662, 69.63], "range": [22.7, 491.7], "nice": false, "zero": false}, "axis": null}, "y": {"field": "p1", "type": "quantitative", "scale": {"domain": [2272.61, 2384.73], "range": [688.3, 460.7], "nice": false, "zero": false}, "axis": null}, "x2": {"field": "i2"}, "y2": {"field": "p2"}, "color": {"condition": {"test": "datum.k == 'r'", "value": "#e4321e"}, "value": "#3aa0e6"}, "strokeWidth": {"condition": {"test": "datum.k == 't'", "value": 1.2}, "value": 3}}},
{"data": {"name": "goldArr"}, "transform": [{"filter": "datum.k != 't'"}, {"calculate": "atan2((datum.i2 - datum.i1) * 6.8, (datum.p2 - datum.p1) * 2.03) * 180 / PI", "as": "ang"}], "mark": {"type": "point", "shape": "triangle-up", "filled": true, "size": 80, "opacity": 1}, "encoding": {"x": {"field": "i2", "type": "quantitative", "scale": {"domain": [0.662, 69.63], "range": [22.7, 491.7], "nice": false, "zero": false}, "axis": null}, "y": {"field": "p2", "type": "quantitative", "scale": {"domain": [2272.61, 2384.73], "range": [688.3, 460.7], "nice": false, "zero": false}, "axis": null}, "angle": {"field": "ang", "type": "quantitative", "scale": null}, "color": {"condition": {"test": "datum.k == 'r'", "value": "#e4321e"}, "value": "#3aa0e6"}}},
{"data": {"name": "goldRing"}, "mark": {"type": "point", "shape": "M-1,0A1,0.68,0,1,0,1,0A1,0.68,0,1,0,-1,0Z", "size": 420, "filled": false, "color": "#f2b705", "strokeWidth": 2.2, "opacity": 1}, "encoding": {"x": {"field": "i", "type": "quantitative", "scale": {"domain": [0.662, 69.63], "range": [22.7, 491.7], "nice": false, "zero": false}, "axis": null}, "y": {"field": "p", "type": "quantitative", "scale": {"domain": [2272.61, 2384.73], "range": [688.3, 460.7], "nice": false, "zero": false}, "axis": null}}},
{"data": {"values": [{"i": 0.56, "p": 2382.61, "t": "87 MA40:2327.605", "k": "a"}, {"i": 11.0, "p": 2382.61, "t": "MA60:2319.532", "k": "b"}]}, "mark": {"type": "text", "align": "left", "baseline": "middle", "font": "Liberation Sans", "fontSize": 7.3, "fontWeight": "bold"}, "encoding": {"x": {"field": "i", "type": "quantitative", "scale": {"domain": [0.662, 69.63], "range": [22.7, 491.7], "nice": false, "zero": false}, "axis": null}, "y": {"field": "p", "type": "quantitative", "scale": {"domain": [2272.61, 2384.73], "range": [688.3, 460.7], "nice": false, "zero": false}, "axis": null}, "text": {"field": "t", "type": "nominal"}, "color": {"field": "k", "type": "nominal", "scale": {"domain": ["a", "b"], "range": ["#3a4490", "#eaaee4"]}, "legend": null}}},
{"data": {"values": [{"i": 48.8, "p": 2378.18, "t": "2378.316"}, {"i": 18.65, "p": 2277.27, "t": "2277.635"}]}, "mark": {"type": "text", "align": "left", "baseline": "middle", "font": "Liberation Mono", "fontSize": 7.5, "color": "#444444"}, "encoding": {"x": {"field": "i", "type": "quantitative", "scale": {"domain": [0.662, 69.63], "range": [22.7, 491.7], "nice": false, "zero": false}, "axis": null}, "y": {"field": "p", "type": "quantitative", "scale": {"domain": [2272.61, 2384.73], "range": [688.3, 460.7], "nice": false, "zero": false}, "axis": null}, "text": {"field": "t", "type": "nominal"}}},
{"data": {"values": [{"i": 63.8, "p": 2275.3, "t": "1时07分35秒"}]}, "mark": {"type": "text", "align": "left", "baseline": "middle", "font": "Liberation Sans, Noto Sans CJK SC", "fontSize": 7, "color": "#666666"}, "encoding": {"x": {"field": "i", "type": "quantitative", "scale": {"domain": [0.662, 69.63], "range": [22.7, 491.7], "nice": false, "zero": false}, "axis": null}, "y": {"field": "p", "type": "quantitative", "scale": {"domain": [2272.61, 2384.73], "range": [688.3, 460.7], "nice": false, "zero": false}, "axis": null}, "text": {"field": "t", "type": "nominal"}}},
{"data": {"values": [{"i": 16.15, "p": 2367.83, "t": "黄金4小时图"}]}, "mark": {"type": "text", "align": "left", "baseline": "middle", "font": "Noto Sans CJK SC", "fontSize": 20, "color": "#d5382e"}, "encoding": {"x": {"field": "i", "type": "quantitative", "scale": {"domain": [0.662, 69.63], "range": [22.7, 491.7], "nice": false, "zero": false}, "axis": null}, "y": {"field": "p", "type": "quantitative", "scale": {"domain": [2272.61, 2384.73], "range": [688.3, 460.7], "nice": false, "zero": false}, "axis": null}, "text": {"field": "t", "type": "nominal"}}},
{"data": {"values": [{"i": 54.53, "p": 2381.63, "t": "卖出 2336.229100"}, {"i": 54.53, "p": 2373.74, "t": "买入 2335.901100"}]}, "mark": {"type": "text", "align": "left", "baseline": "middle", "font": "Liberation Mono, Noto Sans CJK SC", "fontSize": 11.5, "color": "#000000"}, "encoding": {"x": {"field": "i", "type": "quantitative", "scale": {"domain": [0.662, 69.63], "range": [22.7, 491.7], "nice": false, "zero": false}, "axis": null}, "y": {"field": "p", "type": "quantitative", "scale": {"domain": [2272.61, 2384.73], "range": [688.3, 460.7], "nice": false, "zero": false}, "axis": null}, "text": {"field": "t", "type": "nominal"}}}
]},
{"layer": [
{"data": {"name": "goldLab"}, "mark": {"type": "text", "align": "center", "baseline": "middle", "font": "Liberation Mono", "fontSize": 10, "color": "#111111"}, "encoding": {"x": {"field": "i", "type": "quantitative", "scale": {"domain": [0.662, 69.63], "range": [22.7, 491.7], "nice": false, "zero": false}, "axis": null}, "y": {"field": "l", "type": "quantitative", "scale": {"domain": [0, 1], "range": [888, 790], "nice": false, "zero": false}, "axis": null}, "text": {"field": "t", "type": "nominal"}}},
{"data": {"values": [{"i": 37.6, "l": 0, "t": "|"}]}, "mark": {"type": "text", "align": "center", "baseline": "middle", "font": "Liberation Sans", "fontSize": 12, "color": "#d06a6a"}, "encoding": {"x": {"field": "i", "type": "quantitative", "scale": {"domain": [0.662, 69.63], "range": [22.7, 491.7], "nice": false, "zero": false}, "axis": null}, "y": {"field": "l", "type": "quantitative", "scale": {"domain": [0, 1], "range": [888, 790], "nice": false, "zero": false}, "axis": null}, "text": {"field": "t", "type": "nominal"}}},
{"data": {"values": [{"i": 0.265, "l": 1, "t": ":-6.1222"}]}, "mark": {"type": "text", "align": "left", "baseline": "middle", "font": "Liberation Mono", "fontSize": 9.5, "color": "#111111"}, "encoding": {"x": {"field": "i", "type": "quantitative", "scale": {"domain": [0.662, 69.63], "range": [22.7, 491.7], "nice": false, "zero": false}, "axis": null}, "y": {"field": "l", "type": "quantitative", "scale": {"domain": [0, 1], "range": [888, 790], "nice": false, "zero": false}, "axis": null}, "text": {"field": "t", "type": "nominal"}}},
{"data": {"values": [{"i": 60.6, "l": 0.878, "t": "9.569"}]}, "mark": {"type": "text", "align": "left", "baseline": "middle", "font": "Liberation Mono", "fontSize": 7, "color": "#111111"}, "encoding": {"x": {"field": "i", "type": "quantitative", "scale": {"domain": [0.662, 69.63], "range": [22.7, 491.7], "nice": false, "zero": false}, "axis": null}, "y": {"field": "l", "type": "quantitative", "scale": {"domain": [0, 1], "range": [888, 790], "nice": false, "zero": false}, "axis": null}, "text": {"field": "t", "type": "nominal"}}}
]},
{"data": {"name": "goldTab"}, "mark": {"type": "text", "align": "left", "baseline": "middle", "font": "Liberation Mono, Noto Sans CJK SC"}, "encoding": {"x": {"field": "c", "type": "quantitative", "scale": {"domain": [0, 33], "range": [524, 722], "nice": false, "zero": false}, "axis": null}, "y": {"field": "r", "type": "quantitative", "scale": {"domain": [1, 21], "range": [586, 875], "nice": false, "zero": false}, "axis": null}, "text": {"field": "t", "type": "nominal"}, "size": {"condition": {"test": "test(/[一-龥]/, datum.t)", "value": 11}, "value": 9.5}, "color": {"field": "k", "type": "nominal", "scale": {"domain": ["k", "g", "l", "t", "b"], "range": ["#000000", "#a9b3bd", "#c9cdd1", "#d2c49e", "#b4c4d6"]}, "legend": null}}},
{"layer": [
{"data": {"values": [{"ln": 1, "a": 0.5, "t": "黄金周一上涨在 2365 之下遇阻，下跌在 2332 之上受到支持，收盘在 2337.21，意味着黄金盘中"}, {"ln": 2, "a": 0.5, "t": "反弹后继续下跌的可能性较大。如果今天反弹在 2357 之下遇阻，后市下跌的目标将会指向 2324"}, {"ln": 3, "a": 0.5, "t": "-2312 之间。"}]}, "mark": {"type": "text", "align": "center", "baseline": "middle", "font": "Noto Sans CJK SC", "fontSize": 11.2, "color": "#111111"}, "encoding": {"x": {"field": "a", "type": "quantitative", "scale": {"domain": [0, 1], "range": [20, 508], "nice": false, "zero": false}, "axis": null}, "y": {"field": "ln", "type": "quantitative", "scale": {"domain": [0, 3], "range": [703, 748], "nice": false, "zero": false}, "axis": null}, "text": {"field": "t", "type": "nominal"}}},
{"data": {"values": [{"ln": 0, "a": 0, "t": "VOL2:0.0000"}]}, "mark": {"type": "text", "align": "left", "baseline": "middle", "font": "Liberation Mono", "fontSize": 9.5, "color": "#111111"}, "encoding": {"x": {"field": "a", "type": "quantitative", "scale": {"domain": [0, 1], "range": [20, 508], "nice": false, "zero": false}, "axis": null}, "y": {"field": "ln", "type": "quantitative", "scale": {"domain": [0, 3], "range": [703, 748], "nice": false, "zero": false}, "axis": null}, "text": {"field": "t", "type": "nominal"}}}
]}
]
}
